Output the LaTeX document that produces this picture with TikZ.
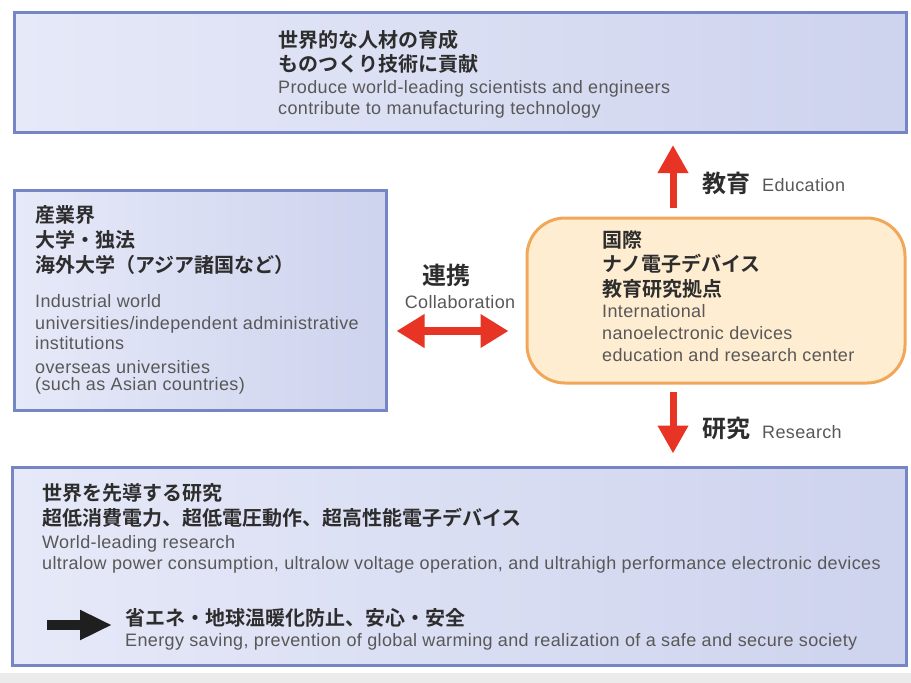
\documentclass[tikz,border=0pt]{standalone}
\usepackage{fontspec}
\setmainfont{Liberation Sans}[LetterSpace=2.0]
\newfontfamily\jp{Noto Sans CJK JP}[BoldFont=* Bold]
\usetikzlibrary{arrows.meta,calc}
\definecolor{boxblue}{RGB}{118,134,196}
\definecolor{lav}{RGB}{206,211,238}
\definecolor{lavl}{RGB}{230,233,248}
\definecolor{orb}{RGB}{240,168,88}
\definecolor{orf}{RGB}{255,237,210}
\definecolor{orfl}{RGB}{255,249,239}
\definecolor{redar}{RGB}{232,52,36}
\definecolor{jptext}{RGB}{45,45,45}
\definecolor{entext}{RGB}{88,88,88}
\tikzset{
  bluebox/.style={draw=boxblue, line width=3pt, rectangle, inner sep=0pt,
    left color=lavl, middle color=white!96!lav, right color=lav},
  orbox/.style={draw=orb, line width=3pt, rectangle, rounded corners=38pt, inner sep=0pt,
    left color=orf, middle color=orfl, right color=orf},
  jpl/.style={anchor=west, inner sep=0pt, text=jptext, font=\jp\bfseries\fontsize{20}{22}\selectfont},
  jpbig/.style={anchor=west, inner sep=0pt, text=jptext, font=\jp\bfseries\fontsize{24}{26}\selectfont},
  enl/.style={anchor=west, inner sep=0pt, text=entext, font=\fontsize{18}{19}\selectfont},
  redarrow/.style={draw=redar, line width=7pt, -{Triangle[width=29pt,length=28pt]}},
  dblarrow/.style={draw=redar, line width=8pt, {Triangle[width=32pt,length=28pt]}-{Triangle[width=32pt,length=28pt]}},
  blkarrow/.style={draw=black!88, line width=10pt, -{Triangle[width=28pt,length=32pt]}}
}
\begin{document}
\begin{tikzpicture}[x=1pt,y=-1pt]
\useasboundingbox (0,0) rectangle (911,683);
\fill[white] (0,0) rectangle (911,683);
\fill[black!8] (0,673) rectangle (911,683);
% boxes
\node[bluebox, minimum width=892pt, minimum height=120pt] (top) at (460,72.5) {};
\node[bluebox, minimum width=372pt, minimum height=220pt] (left) at (200,300) {};
\node[orbox, minimum width=378pt, minimum height=165pt] (ctr) at (716,300.5) {};
\node[bluebox, minimum width=894pt, minimum height=198pt] (bot) at (459,566) {};
% helper coordinates
\coordinate (ax) at (673,0);
\coordinate (ay) at (0,331);
\coordinate (ba1) at (47,625);
\coordinate (ba2) at (112,625);
% arrows
\draw[redarrow, shorten <=9pt, shorten >=11pt] (ctr.north -| ax) -- (top.south -| ax);
\draw[redarrow, shorten <=7pt, shorten >=12pt] (ctr.south -| ax) -- (bot.north -| ax);
\draw[dblarrow, shorten <=9pt, shorten >=17pt] (left.east |- ay) -- (ctr.west |- ay);
\draw[blkarrow] (ba1) -- (ba2);
% top box text
\node[jpl] (t1) at (278,40) {世界的な人材の育成};
\node[jpl] (t2) at (278,64) {ものつくり技術に貢献};
\node[enl] (t3) at (278,89) {Produce world-leading scientists and engineers};
\node[enl] (t4) at (278,110) {contribute to manufacturing technology};
% left box text
\node[jpl] (l1) at (35,215) {産業界};
\node[jpl] (l2) at (35,240) {大学・独法};
\node[jpl] (l3) at (35,265) {海外大学（アジア諸国など）};
\node[enl] (l4) at (35,301) {Industrial world};
\node[enl] (l5) at (35,325) {universities/independent administrative};
\node[enl] (l6) at (35,343) {institutions};
\node[enl] (l7) at (35,367) {overseas universities};
\node[enl] (l8) at (35,386) {(such as Asian countries)};
% collaboration
\node[jpbig] (c1) at (422,275) {連携};
\node[enl, anchor=center] (c2) at (460,302) {Collaboration};
% education / research
\node[jpbig] (e1) at (702,183) {教育};
\node[enl] (e2) at (762,185) {Education};
\node[jpbig] (r1) at (702,428) {研究};
\node[enl] (r2) at (762,432) {Research};
% center box text
\node[jpl] (m1) at (602,240) {国際};
\node[jpl] (m2) at (602,264) {ナノ電子デバイス};
\node[jpl] (m3) at (602,289) {教育研究拠点};
\node[enl] (m4) at (602,311) {International};
\node[enl] (m5) at (602,333) {nanoelectronic devices};
\node[enl] (m6) at (602,355) {education and research center};
% bottom box text
\node[jpl] (b1) at (42,493) {世界を先導する研究};
\node[jpl] (b2) at (42,518) {超低消費電力、超低電圧動作、超高性能電子デバイス};
\node[enl] (b3) at (42,544) {World-leading research};
\node[enl] (b4) at (42,565) {ultralow power consumption, ultralow voltage operation, and ultrahigh performance electronic devices};
\node[jpl] (b5) at (125,618) {省エネ・地球温暖化防止、安心・安全};
\node[enl] (b6) at (125,642) {Energy saving, prevention of global warming and realization of a safe and secure society};
\end{tikzpicture}
\end{document}
